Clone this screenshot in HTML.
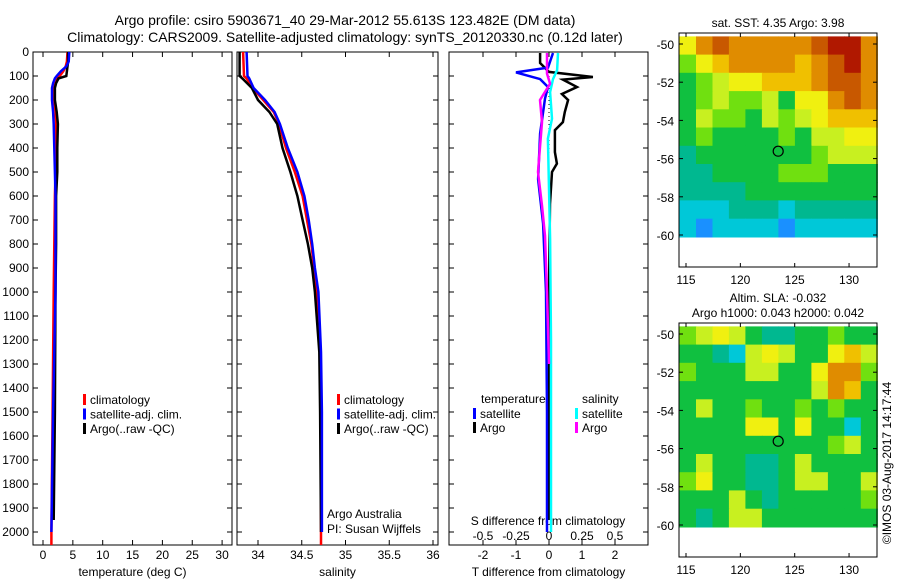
<!DOCTYPE html>
<html><head><meta charset="utf-8">
<style>
body{margin:0;background:#fff;}
svg{display:block;font-family:"Liberation Sans",sans-serif;}
text{fill:#000;}
</style></head>
<body>
<svg id="chart" width="900" height="580" viewBox="0 0 900 580" xmlns="http://www.w3.org/2000/svg">
<text x="345" y="25" font-size="14" text-anchor="middle">Argo profile: csiro 5903671_40 29-Mar-2012 55.613S 123.482E (DM data)</text>
<text x="345" y="42" font-size="14" text-anchor="middle">Climatology: CARS2009. Satellite-adjusted climatology: synTS_20120330.nc (0.12d later)</text>
<g id="g"></g>
</svg>
<script>
// ---- data ----
const depthTicks = [0,100,200,300,400,500,600,700,800,900,1000,1100,1200,1300,1400,1500,1600,1700,1800,1900,2000];
const tempTicks = [0,5,10,15,20,25,30];
const salTicks = [34,34.5,35,35.5,36];
const salTickLabels = ["34","34.5","35","35.5","36"];
const tdiffTicks = [-2,-1,0,1,2];
const sdiffTicks = [-0.5,-0.25,0,0.25,0.5];
const sdiffTickLabels = ["-0.5","-0.25","0","0.25","0.5"];

const tDepth = [0,40,60,80,100,110,130,150,200,250,300,400,500,600,800,1000,1500,1950];
const tArgo  = [4.2,4.2,4.1,4.0,3.9,2.6,2.2,2.0,2.0,2.3,2.5,2.4,2.4,2.2,2.2,2.1,2.0,1.8];
const tDepthC = [0,40,60,80,100,110,130,150,200,250,300,400,500,600,800,1000,1500,2000,2055];
const tClim  = [4.1,4.0,3.8,3.4,2.8,2.4,2.1,1.9,1.9,2.1,2.2,2.2,2.1,2.0,1.9,1.8,1.6,1.4,1.4];
const tDepthS = [0,40,60,80,100,110,130,150,200,250,300,400,500,600,800,1000,1500,2000];
const tSat   = [4.4,4.3,3.9,3.0,2.3,2.0,1.7,1.5,1.5,1.7,1.8,1.9,2.0,2.1,2.1,2.1,1.7,1.4];

const sDepth = [0,100,110,150,200,250,300,400,500,600,700,800,900,1000,1250,1500,2000];
const sArgo = [33.79,33.79,33.82,33.93,34.00,34.13,34.22,34.28,34.37,34.45,34.51,34.57,34.62,34.65,34.70,34.71,34.72];
const sDepthC = [0,100,110,150,200,250,300,400,500,600,700,800,900,1000,1250,1500,2000,2055];
const sClim = [33.83,33.84,33.87,33.94,34.06,34.18,34.24,34.32,34.42,34.51,34.56,34.61,34.64,34.67,34.71,34.72,34.72,34.72];
const sSat  = [33.87,33.88,33.90,33.95,34.08,34.19,34.25,34.34,34.45,34.53,34.58,34.62,34.65,34.69,34.72,34.73,34.73];

const dtArgoDepth = [4,46,83,104,115,146,175,200,250,292,326,417,465,500,633,1000,1500,1950];
const dtArgo = [-0.27,-0.27,0.0,1.33,0.42,0.85,0.39,0.58,0.48,0.42,0.18,0.18,0.24,0.09,0.03,0.0,0.0,0.0];
const dtSatDepth = [4,65,85,113,146,194,340,530,715,1000,1500,2000];
const dtSat = [0.12,-0.03,-1.0,-0.27,-0.03,-0.12,-0.27,-0.33,-0.18,-0.09,-0.06,-0.06];
const dsSatDepth = [4,76,113,167,278,361,778,1200,2000];
const dsSat = [0.068,0.061,0.03,0.008,0.023,-0.008,0.008,0.015,0.015];
const dsArgoDepth = [4,90,132,200,292,500,640,765,1000,1300];
const dsArgo = [-0.015,-0.015,0.008,-0.068,-0.053,-0.083,-0.053,-0.03,-0.015,0.0];

const sstGrid = [
[6,8,9,8,8,8,8,8,9,10,10,8],
[4,6,7,8,8,8,8,7,8,9,10,8],
[3,4,5,6,6,7,7,7,8,9,9,8],
[3,4,5,4,4,5,3,6,6,8,9,8],
[3,5,4,4,3,5,4,5,6,7,7,7],
[3,4,3,3,3,3,4,3,5,5,6,6],
[2,3,3,3,3,3,3,3,4,5,5,5],
[2,2,3,3,3,3,4,4,4,3,3,3],
[2,2,2,2,3,3,3,3,3,3,3,3],
[1,1,1,2,2,2,1,2,2,2,2,2],
[1,0,1,1,1,1,0,1,1,1,1,1]];
const slaGrid = [
[4,5,6,5,3,2,2,3,3,4,3,3],
[3,3,2,1,5,6,5,3,3,6,7,5],
[4,3,3,3,5,5,3,3,6,8,8,4],
[3,3,3,3,3,3,3,3,5,8,7,3],
[3,5,3,3,4,3,3,4,3,4,3,3],
[3,3,3,3,6,6,3,6,3,3,1,3],
[3,3,3,3,3,3,3,3,3,4,5,3],
[3,5,3,3,2,2,3,5,3,3,3,3],
[4,6,3,3,2,2,3,5,5,3,3,5],
[3,3,3,5,3,2,3,3,3,3,3,4],
[3,2,3,5,5,3,3,3,3,3,3,3]];
const latTicks = [-50,-52,-54,-56,-58,-60];
const lonTicks = [115,120,125,130];
const argoLon = 123.482, argoLat = -55.613;
const palette = ["#1a90ff","#00c8d8","#00b890","#10c040","#70e010","#c8f020","#f0f010","#f0c000","#e08c00","#c85800","#b01800"];

// ---- helpers ----
const NS="http://www.w3.org/2000/svg";
const G=document.getElementById('g');
function el(tag,attrs,parent){const e=document.createElementNS(NS,tag);for(const k in attrs)e.setAttribute(k,attrs[k]);(parent||G).appendChild(e);return e;}
function txt(s,x,y,size,anchor,parent){const t=el('text',{x:x,y:y,'font-size':size,'text-anchor':anchor||'middle'},parent);t.textContent=s;return t;}

const PT=52, PB=545;
const yD = d => PT + d*0.24;
const xT = v => 43 + v*5.97;
const xS = v => 258 + (v-34)*87.5;
const xDT = v => 549 + v*33;
const xDS = v => 549 + v*132;

const defs=el('defs',{});
function clip(id,x0,x1,y0,y1){const c=el('clipPath',{id:id},defs);el('rect',{x:x0,y:y0,width:x1-x0,height:y1-y0},c);}

function panel(name,x0,x1,xf,ticks,labels,xlabel){
  const g=el('g',{});
  
  
  el('rect',{x:x0,y:PT,width:x1-x0,height:PB-PT,fill:'none',stroke:'#000','stroke-width':1},g);
  depthTicks.forEach(d=>{
    el('line',{x1:x0,x2:x0+5,y1:yD(d),y2:yD(d),stroke:'#000'},g);
    el('line',{x1:x1,x2:x1-5,y1:yD(d),y2:yD(d),stroke:'#000'},g);
  });
  if(ticks) ticks.forEach((v,i)=>{
    const x=xf(v);
    el('line',{x1:x,x2:x,y1:PB,y2:PB-5,stroke:'#000'},g);
    el('line',{x1:x,x2:x,y1:PT,y2:PT+5,stroke:'#000'},g);
    const t=txt(labels?labels[i]:String(v),x,559,12,'middle',g);
    
    
  });
  if(xlabel){const t=txt(xlabel,(x0+x1)/2,576,12,'middle',g);
    
    }
  return g;
}
function line(xs,ds,xf,color,name,clipId,w){
  const pts=xs.map((v,i)=>xf(v).toFixed(1)+','+yD(ds[i]).toFixed(1)).join(' ');
  const p=el('polyline',{points:pts,fill:'none',stroke:color,'stroke-width':w||2.5,'clip-path':'url(#'+clipId+')','stroke-linejoin':'miter'});
  
  
  return p;
}

// depth labels
depthTicks.forEach(d=>{const t=txt(String(d),29,yD(d)+4,12,'end');
  
  });

clip('c1',33,232,PT,PB); clip('c2',237,438,PT,PB); clip('c3',449,648,PT,PB);
panel('temperature-panel',33,232,xT,tempTicks,null,'temperature (deg C)');
panel('salinity-panel',237,438,xS,salTicks,salTickLabels,'salinity');
panel('difference-panel',449,648,xDT,tdiffTicks,null,'T difference from climatology');

// S-diff inner axis labels
sdiffTicks.forEach((v,i)=>{const t=txt(sdiffTickLabels[i],xDS(v),540,12,'middle');
  
  });
{const t=txt('S difference from climatology',548,525,12,'middle');
 }

// profiles
line(tClim,tDepthC,xT,'#ff0000','temp-climatology-line','c1');
line(tArgo,tDepth,xT,'#000000','temp-argo-line','c1');
line(tSat,tDepthS,xT,'#0000ff','temp-satellite-line','c1');
line(sClim,sDepthC,xS,'#ff0000','sal-climatology-line','c2');
line(sArgo,sDepth,xS,'#000000','sal-argo-line','c2');
line(sSat,sDepth,xS,'#0000ff','sal-satellite-line','c2');
{const z=el('line',{x1:549,x2:549,y1:yD(100),y2:yD(700),stroke:'#000','stroke-dasharray':'1,3'});
 }
line(dtArgo,dtArgoDepth,xDT,'#000000','tdiff-argo-line','c3');
line(dsSat,dsSatDepth,xDS,'#00ffff','sdiff-satellite-line','c3');
line(dtSat,dtSatDepth,xDT,'#0000ff','tdiff-satellite-line','c3');
line(dsArgo,dsArgoDepth,xDS,'#ff00ff','sdiff-argo-line','c3');

// legends
function legend(x,y,color,label,name){
  const g=el('g',{});
  
  
  el('rect',{x:x,y:y-9,width:3,height:11,fill:color},g);
  txt(label,x+7,y+1,12,'start',g);
}
[['#ff0000','climatology'],['#0000ff','satellite-adj. clim.'],['#000','Argo(..raw -QC)']].forEach((e,i)=>{
  legend(83,403+i*14.5,e[0],e[1],'temp-legend-entry');
  legend(337,403+i*14.5,e[0],e[1],'sal-legend-entry');
});
{const t=txt('temperature',481,403,12,'start');
 const s=txt('salinity',582,403,12,'start');}
legend(473,417,'#0000ff','satellite','legend-t-satellite');
legend(473,431,'#000','Argo','legend-t-argo');
legend(575,417,'#00ffff','satellite','legend-s-satellite');
legend(575,431,'#ff00ff','Argo','legend-s-argo');
{const a=txt('Argo Australia',327,518,12,'start');
 const b=txt('PI: Susan Wijffels',327,533,12,'start');}

// maps
function map(name,grid,top,bottom,title){
  const MX0=679,MX1=877;
  const lonX = lon => 686 + (lon-115)*10.87;
  const y50 = top+11, y60 = y50+191;
  const latY = lat => y50 + (-50-lat)*19.1;
  const g=el('g',{});
  
  
  const lat0=-49.6, lat1=-60.1, lon0=114.4, lon1=132.6;
  const rows=grid.length, cols=grid[0].length;
  const dLat=(lat0-lat1)/rows, dLon=(lon1-lon0)/cols;
  grid.forEach((row,r)=>row.forEach((v,c)=>{
    const x=lonX(lon0+c*dLon), y=latY(lat0-r*dLat);
    const cell=el('rect',{x:x.toFixed(1),y:y.toFixed(1),width:(dLon*10.87+0.6).toFixed(1),height:(dLat*19.1+0.6).toFixed(1),fill:palette[v]},g);
    
    
  }));
  el('rect',{x:MX0,y:top,width:MX1-MX0,height:bottom-top,fill:'none',stroke:'#000'},g);
  latTicks.forEach(l=>{const y=latY(l);
    el('line',{x1:MX0,x2:MX0+4,y1:y,y2:y,stroke:'#000'},g);
    el('line',{x1:MX1,x2:MX1-4,y1:y,y2:y,stroke:'#000'},g);
    const t=txt(String(l),674,y+5,12,'end',g);
    });
  lonTicks.forEach(l=>{const x=lonX(l);
    el('line',{x1:x,x2:x,y1:bottom,y2:bottom-4,stroke:'#000'},g);
    el('line',{x1:x,x2:x,y1:top,y2:top+4,stroke:'#000'},g);
    const t=txt(String(l),x,bottom+17,12,'middle',g);
    });
  const c=el('circle',{cx:lonX(argoLon),cy:latY(argoLat),r:5,fill:'none',stroke:'#000','stroke-width':1.2},g);
  
  
  title.forEach((s,i)=>{const t=txt(s,778,top-(title.length-1-i)*15-6,12,'middle',g);
    });
}
map('sst-map',sstGrid,33,267,['sat. SST: 4.35 Argo: 3.98']);
map('sla-map',slaGrid,323,557,['Altim. SLA: -0.032','Argo h1000: 0.043 h2000: 0.042']);
{const t=el('text',{x:0,y:0,'font-size':12,'text-anchor':'middle',transform:'translate(891,463) rotate(-90)'});
 t.textContent='\u00A9IMOS 03-Aug-2017 14:17:44';
 }
</script>
</body></html>
